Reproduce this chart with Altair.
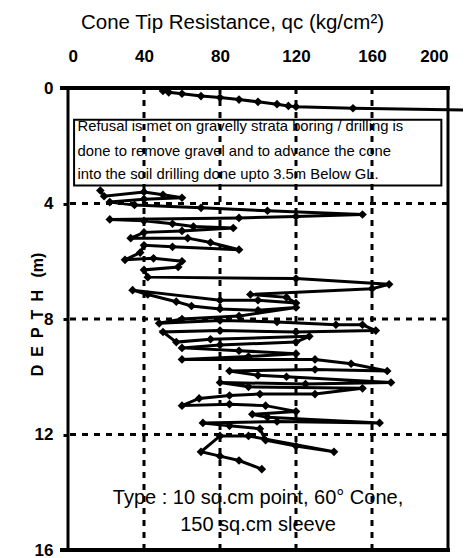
import altair as alt
import pandas as pd

# top segment (0 - 0.8 m)
top_qc = [50, 53, 60, 70, 80, 90, 100, 110, 116, 120, 150, 212]
top_depth = [0.1, 0.15, 0.2, 0.28, 0.33, 0.4, 0.48, 0.56, 0.62, 0.65, 0.7, 0.77]

# main segment (3.5 - 13.2 m)
main_qc = [17, 19, 40, 50, 60, 40, 22, 35, 70, 105, 155, 120, 90, 22, 40, 55, 66, 87,
           60, 40, 33, 63, 75, 90, 55, 40, 38, 30, 45, 60, 58, 40, 42, 120, 169, 160,
           96, 115, 120, 100, 80, 34, 42, 57, 65, 80, 100, 120, 90, 60, 48, 80, 110,
           141, 155, 162, 120, 80, 50, 57, 75, 127, 120, 80, 60, 90, 120, 95, 60, 130,
           149, 168, 130, 85, 100, 115, 170, 125, 80, 95, 155, 130, 101, 85, 69, 60,
           85, 104, 120, 97, 105, 164, 110, 71, 85, 101, 104, 120, 140, 95, 80, 70, 80,
           90, 102]
main_depth = [3.55, 3.75, 3.6, 3.7, 3.8, 3.85, 3.95, 4.05, 4.15, 4.25, 4.38, 4.45, 4.5,
              4.55, 4.6, 4.7, 4.8, 4.85, 4.95, 5.0, 5.2, 5.2, 5.35, 5.6, 5.5, 5.45, 5.7,
              5.95, 5.9, 6.0, 6.2, 6.3, 6.55, 6.6, 6.8, 6.95, 7.15, 7.25, 7.45, 7.35,
              7.35, 7.0, 7.15, 7.4, 7.55, 7.65, 7.7, 7.6, 7.9, 8.0, 8.15, 8.05, 8.1, 8.2,
              8.2, 8.4, 8.45, 8.4, 8.45, 8.8, 8.7, 8.6, 8.8, 8.9, 9.0, 9.1, 9.2, 9.3,
              9.4, 9.4, 9.55, 9.8, 9.75, 9.8, 9.95, 10.0, 10.2, 10.25, 10.2, 10.35,
              10.4, 10.6, 10.6, 10.65, 10.75, 11.0, 10.95, 11.0, 11.2, 11.3, 11.4, 11.6,
              11.55, 11.6, 11.7, 11.8, 12.2, 12.4, 12.6, 12.05, 12.05, 12.6, 12.75,
              12.9, 13.2]

x_ticks = [0, 40, 80, 120, 160, 200]
y_ticks = [0, 4, 8, 12, 16]
x_grid = [40, 80, 120, 160]
y_grid = [4, 8, 12]

note_lines = [
    "Refusal is met on gravelly strata boring / drilling is",
    "done to remove gravel and to advance the cone",
    "into the soil drilling done upto 3.5m Below GL.",
]
note_depths = [1.34, 2.2, 3.0]
type_lines = ["Type : 10 sq.cm point, 60\u00b0  Cone,", "150 sq.cm sleeve"]
type_depths = [14.2, 15.14]

rows = []
for i, (q, d) in enumerate(zip(top_qc, top_depth)):
    rows.append({"qc": q, "depth": d, "seg": "a", "ord": i})
for i, (q, d) in enumerate(zip(main_qc, main_depth)):
    rows.append({"qc": q, "depth": d, "seg": "b", "ord": i})
df = pd.DataFrame(rows)

FONT = "Liberation Sans"
W, H = 380, 462

xs = alt.Scale(domain=[0, 200], nice=False)
ys = alt.Scale(domain=[0, 16], reverse=True, nice=False)

base_x = alt.X("qc:Q", scale=xs, axis=alt.Axis(
    orient="top", values=x_ticks, grid=False, domain=False, ticks=False,
    labelFont=FONT, labelFontSize=17, labelFontWeight="bold", labelColor="black",
    labelPadding=23, title="Cone Tip Resistance, qc (kg/cm\u00b2)", titleFont=FONT,
    titleFontSize=20.5, titleFontWeight="normal", titleColor="black",
    titleX=W / 2 - 26, titleY=-66, titleBaseline="middle", titleAlign="center"))
base_y = alt.Y("depth:Q", scale=ys, axis=alt.Axis(
    values=y_ticks, grid=False, domain=False, tickSize=5, tickWidth=3, tickColor="black",
    labelFont=FONT, labelFontSize=17, labelFontWeight="bold", labelColor="black",
    labelPadding=10, title="D\u2002E\u2002P\u2002T\u2002H\u2002 (m)", titleFont=FONT,
    titleFontSize=16, titleFontWeight="bold", titleColor="black",
    titleX=-31, titleY=226, titleAngle=270, titleBaseline="middle", titleAlign="center"))

box = alt.Chart(pd.DataFrame({"a": [0]})).mark_rect(
    fill="white", stroke="black", strokeWidth=2).encode(
    x=alt.datum(3.2, scale=xs), x2=alt.datum(196.5),
    y=alt.datum(1.1, scale=ys), y2=alt.datum(3.38))

note = alt.Chart(pd.DataFrame({"t": note_lines, "d": note_depths})).mark_text(
    align="left", baseline="middle", font=FONT, fontSize=14.8, color="black").encode(
    x=alt.datum(5, scale=xs), y=alt.Y("d:Q", scale=ys), text="t:N")

vgrid = alt.Chart(pd.DataFrame({"g": x_grid})).mark_rule(
    color="black", strokeWidth=3, strokeDash=[6, 6]).encode(x=alt.X("g:Q", scale=xs))
hgrid = alt.Chart(pd.DataFrame({"g": y_grid})).mark_rule(
    color="black", strokeWidth=3, strokeDash=[6, 6]).encode(y=alt.Y("g:Q", scale=ys))

typ = alt.Chart(pd.DataFrame({"t": type_lines, "d": type_depths})).mark_text(
    align="center", baseline="middle", font=FONT, fontSize=20, color="black").encode(
    x=alt.datum(100, scale=xs), y=alt.Y("d:Q", scale=ys), text="t:N")

line = alt.Chart(df).mark_line(
    color="black", strokeWidth=3, clip=False,
    point=alt.OverlayMarkDef(shape="diamond", size=75, filled=True, color="black")
).encode(x=base_x, y=base_y, detail="seg:N", order="ord:Q")

frame_top = alt.Chart(pd.DataFrame({"a": [0]})).mark_rule(color="black", strokeWidth=4).encode(
    x=alt.value(-8), x2=alt.value(W + 2), y=alt.value(0))
frame_bot = alt.Chart(pd.DataFrame({"a": [0]})).mark_rule(color="black", strokeWidth=4).encode(
    x=alt.value(-8), x2=alt.value(W + 2), y=alt.value(H))
frame_l = alt.Chart(pd.DataFrame({"a": [0]})).mark_rule(color="black", strokeWidth=3).encode(
    x=alt.value(0), y=alt.value(0), y2=alt.value(H))
frame_r = alt.Chart(pd.DataFrame({"a": [0]})).mark_rule(color="black", strokeWidth=3).encode(
    x=alt.value(W), y=alt.value(0), y2=alt.value(H))

chart = alt.layer(box, note, vgrid, hgrid, typ, line, frame_top, frame_bot, frame_l, frame_r
).properties(width=W, height=H, autosize=alt.AutoSizeParams(type="none"),
             padding={"left": 60, "top": 80, "right": 15, "bottom": 8}
).configure_view(stroke=None).configure(background="white")

chart.save("out.html", embed_options={"renderer": "svg", "actions": False})
